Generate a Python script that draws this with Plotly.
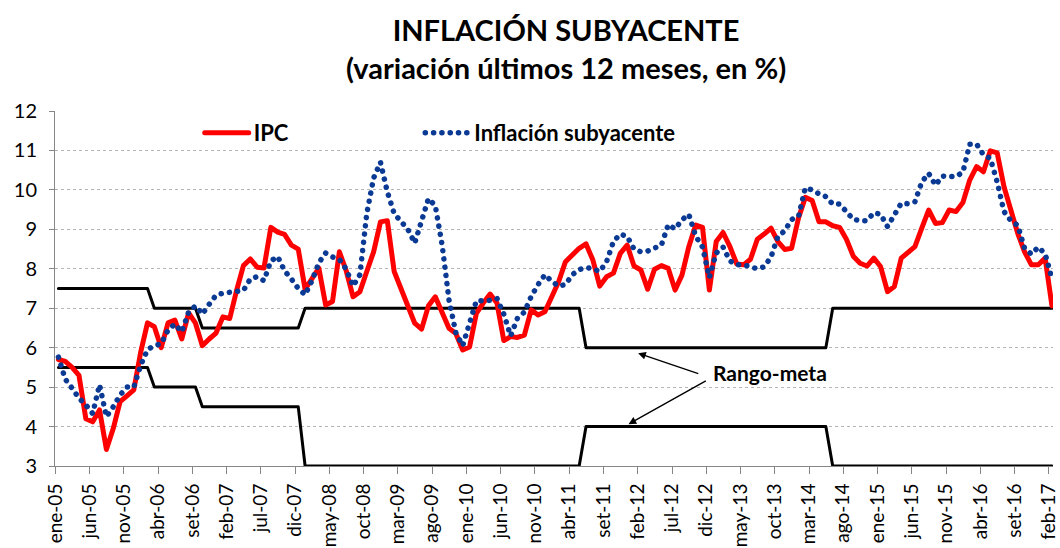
import plotly.graph_objects as go

# Meses ene-05 .. feb-17 (146 observaciones); marcas del eje cada 5 meses
tick_labels = ["ene-05", "jun-05", "nov-05", "abr-06", "set-06", "feb-07", "jul-07", "dic-07",
               "may-08", "oct-08", "mar-09", "ago-09", "ene-10", "jun-10", "nov-10", "abr-11",
               "set-11", "feb-12", "jul-12", "dic-12", "may-13", "oct-13", "mar-14", "ago-14",
               "ene-15", "jun-15", "nov-15", "abr-16", "set-16", "feb-17"]

# IPC, variacion 12 meses (una fila por año)
ipc = [
    5.70, 5.65, 5.50, 5.30, 4.20, 4.12, 4.42, 3.42, 3.95, 4.63, 4.78, 4.93,
    5.88, 6.63, 6.53, 6.00, 6.63, 6.70, 6.22, 6.88, 6.62, 6.05, 6.22, 6.37,
    6.78, 6.74, 7.45, 8.08, 8.25, 8.04, 8.02, 9.05, 8.93, 8.87, 8.60, 8.50,
    7.48, 7.76, 8.02, 7.08, 7.17, 8.43, 7.95, 7.29, 7.42, 7.93, 8.43, 9.19,
    9.22, 7.93, 7.50, 7.13, 6.62, 6.47, 7.06, 7.29, 6.91, 6.49, 6.36, 5.94,
    6.02, 6.87, 7.13, 7.36, 7.13, 6.18, 6.28, 6.26, 6.32, 6.96, 6.83, 6.91,
    7.29, 7.67, 8.18, 8.35, 8.52, 8.63, 8.22, 7.56, 7.80, 7.89, 8.39, 8.60,
    8.07, 7.97, 7.48, 7.99, 8.08, 8.01, 7.46, 7.84, 8.56, 9.11, 9.05, 7.46,
    8.69, 8.92, 8.56, 8.12, 8.10, 8.24, 8.75, 8.88, 9.03, 8.69, 8.49, 8.52,
    9.28, 9.81, 9.73, 9.19, 9.19, 9.09, 9.05, 8.75, 8.32, 8.14, 8.07, 8.27,
    8.05, 7.42, 7.55, 8.27, 8.41, 8.56, 9.03, 9.49, 9.15, 9.17, 9.49, 9.45,
    9.68, 10.25, 10.59, 10.46, 10.99, 10.94, 10.08, 9.49, 8.90, 8.43, 8.10, 8.10,
    8.27, 7.06,
]

# Inflacion subyacente
subyacente = [
    5.76, 5.20, 4.97, 4.72, 4.55, 4.33, 5.06, 4.25, 4.50, 4.80, 5.00, 5.00,
    5.55, 5.95, 6.05, 6.10, 6.45, 6.60, 6.40, 6.90, 7.06, 6.85, 7.10, 7.33,
    7.38, 7.40, 7.40, 7.45, 7.74, 7.80, 7.70, 8.20, 8.31, 7.95, 7.74, 7.50,
    7.34, 7.70, 8.15, 8.40, 8.30, 8.24, 7.99, 7.56, 7.85, 9.40, 10.30, 10.70,
    9.95, 9.40, 9.20, 9.00, 8.65, 9.18, 9.78, 9.60, 8.60, 7.21, 6.38, 6.05,
    6.63, 7.19, 7.19, 7.20, 7.25, 6.85, 6.30, 6.75, 6.90, 7.30, 7.60, 7.85,
    7.68, 7.56, 7.60, 7.85, 7.98, 8.03, 8.00, 7.93, 8.18, 8.69, 8.88, 8.82,
    8.50, 8.43, 8.45, 8.52, 8.60, 9.12, 9.01, 9.24, 9.38, 8.83, 8.55, 7.78,
    8.40, 8.55, 8.20, 8.10, 8.10, 8.05, 8.00, 8.05, 8.30, 8.82, 8.96, 9.25,
    9.32, 10.05, 10.00, 9.90, 9.83, 9.64, 9.64, 9.45, 9.25, 9.22, 9.22, 9.42,
    9.38, 9.07, 9.35, 9.66, 9.65, 9.70, 10.20, 10.42, 10.12, 10.35, 10.34, 10.34,
    10.45, 11.16, 11.16, 10.89, 10.80, 10.20, 9.45, 9.22, 9.10, 8.52, 8.37, 8.55,
    8.38, 7.75,
]

# Rango-meta: limites superior e inferior
meta_sup = [
    7.5, 7.5, 7.5, 7.5, 7.5, 7.5, 7.5, 7.5, 7.5, 7.5, 7.5, 7.5,
    7.5, 7.5, 7, 7, 7, 7, 7, 7, 7, 6.5, 6.5, 6.5,
    6.5, 6.5, 6.5, 6.5, 6.5, 6.5, 6.5, 6.5, 6.5, 6.5, 6.5, 6.5,
    7, 7, 7, 7, 7, 7, 7, 7, 7, 7, 7, 7,
    7, 7, 7, 7, 7, 7, 7, 7, 7, 7, 7, 7,
    7, 7, 7, 7, 7, 7, 7, 7, 7, 7, 7, 7,
    7, 7, 7, 7, 7, 6, 6, 6, 6, 6, 6, 6,
    6, 6, 6, 6, 6, 6, 6, 6, 6, 6, 6, 6,
    6, 6, 6, 6, 6, 6, 6, 6, 6, 6, 6, 6,
    6, 6, 6, 6, 6, 7, 7, 7, 7, 7, 7, 7,
    7, 7, 7, 7, 7, 7, 7, 7, 7, 7, 7, 7,
    7, 7, 7, 7, 7, 7, 7, 7, 7, 7, 7, 7,
    7, 7,
]
meta_inf = [
    5.5, 5.5, 5.5, 5.5, 5.5, 5.5, 5.5, 5.5, 5.5, 5.5, 5.5, 5.5,
    5.5, 5.5, 5, 5, 5, 5, 5, 5, 5, 4.5, 4.5, 4.5,
    4.5, 4.5, 4.5, 4.5, 4.5, 4.5, 4.5, 4.5, 4.5, 4.5, 4.5, 4.5,
    3, 3, 3, 3, 3, 3, 3, 3, 3, 3, 3, 3,
    3, 3, 3, 3, 3, 3, 3, 3, 3, 3, 3, 3,
    3, 3, 3, 3, 3, 3, 3, 3, 3, 3, 3, 3,
    3, 3, 3, 3, 3, 4, 4, 4, 4, 4, 4, 4,
    4, 4, 4, 4, 4, 4, 4, 4, 4, 4, 4, 4,
    4, 4, 4, 4, 4, 4, 4, 4, 4, 4, 4, 4,
    4, 4, 4, 4, 4, 3, 3, 3, 3, 3, 3, 3,
    3, 3, 3, 3, 3, 3, 3, 3, 3, 3, 3, 3,
    3, 3, 3, 3, 3, 3, 3, 3, 3, 3, 3, 3,
    3, 3,
]

x = list(range(len(ipc)))
tick_pos = [i - 0.45 for i in range(0, len(ipc), 5)]

FONT = "Lato"

fig = go.Figure()
for serie in (meta_sup, meta_inf):
    fig.add_trace(go.Scatter(x=x, y=serie, mode="lines", showlegend=False, hoverinfo="skip",
                             cliponaxis=False, line=dict(color="black", width=3)))

fig.add_trace(go.Scatter(x=x, y=ipc, mode="lines", name="IPC", legend="legend",
                         line=dict(color="#FF0000", width=5)))
fig.add_trace(go.Scatter(x=x, y=subyacente, mode="lines", name="Inflación subyacente",
                         legend="legend2",
                         line=dict(color="#0B3A94", width=5.5, dash="0.1px,8.2px")))

# flechas hacia el rango-meta
arrow = dict(text="", showarrow=True, arrowhead=2, arrowsize=1.1, arrowwidth=1.4,
             arrowcolor="black", xref="x", yref="y", axref="x", ayref="y", standoff=0)
fig.add_annotation(x=84.6, y=5.86, ax=93.6, ay=5.33, **arrow)
fig.add_annotation(x=83.2, y=4.06, ax=94.7, ay=5.18, **arrow)
fig.add_annotation(x=103.9, y=5.38, text="Rango-meta", showarrow=False,
                   font=dict(family=FONT, size=21, color="black", weight=700))

legend_font = dict(family=FONT, size=22, color="black", weight=700)
fig.update_layout(
    width=1060, height=548,
    margin=dict(l=55, r=7, t=111, b=82),
    paper_bgcolor="white", plot_bgcolor="white",
    title=dict(text="INFLACIÓN SUBYACENTE<br>(variación últimos 12 meses, en %)",
               x=0.534, xanchor="center", y=0.925, yanchor="top",
               font=dict(family=FONT, size=29, color="black", weight=700)),
    legend=dict(x=0.145, y=0.938, xanchor="left", yanchor="middle", orientation="h",
                bgcolor="rgba(0,0,0,0)", font=legend_font, itemwidth=44),
    legend2=dict(x=0.366, y=0.938, xanchor="left", yanchor="middle", orientation="h",
                 bgcolor="rgba(0,0,0,0)", font=legend_font, itemwidth=44),
    xaxis=dict(range=[-0.5, 145.15], tickvals=tick_pos, ticktext=tick_labels,
               tickangle=-90, ticks="outside", ticklen=7, tickcolor="#868686",
               showline=True, linecolor="#868686", linewidth=1, showgrid=False,
               zeroline=False, automargin=False, ticklabelstandoff=2,
               tickfont=dict(family=FONT, size=19, color="black")),
    yaxis=dict(range=[3, 12], dtick=1, ticks="outside", ticklen=5, tickcolor="#868686",
               showline=True, linecolor="#868686", linewidth=1,
               showgrid=True, gridcolor="#B4B4B4", griddash="dot", gridwidth=1,
               zeroline=False, automargin=False, ticklabelstandoff=8,
               tickfont=dict(family=FONT, size=20, color="black")),
)

# margen del body a cero y puntos redondos para la linea punteada (como en Excel)
css = ("document.body.style.margin='0';"
       "var s=document.createElement('style');"
       "s.textContent='path.js-line{stroke-linecap:round;stroke-linejoin:round}';"
       "document.head.appendChild(s);")
fig.write_html("out.html", post_script=css, config={"displayModeBar": False})
